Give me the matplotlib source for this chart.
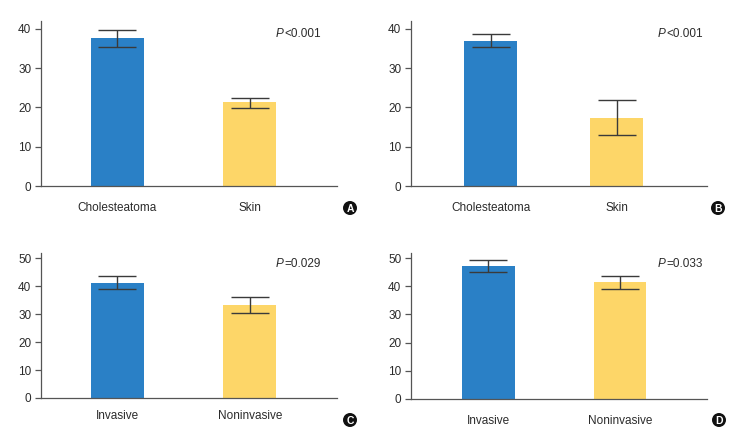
import matplotlib
matplotlib.use("Agg")
import matplotlib.pyplot as plt
from matplotlib.patches import Ellipse

plt.rcParams['font.family'] = ['Liberation Sans', 'DejaVu Sans']

# ---- data ----
cats_top = ["Cholesteatoma", "Skin"]
cats_bottom = ["Invasive", "Noninvasive"]

a_vals = [37.6, 21.3]
a_err_lo = [35.4, 19.8]
a_err_hi = [39.6, 22.3]

b_vals = [37.0, 17.4]
b_err_lo = [35.3, 13.1]
b_err_hi = [38.6, 21.8]

c_vals = [41.3, 33.2]
c_err_lo = [38.9, 30.4]
c_err_hi = [43.7, 36.0]

d_vals = [47.3, 41.4]
d_err_lo = [45.1, 39.0]
d_err_hi = [49.3, 43.8]

p_texts = ["<0.001", "<0.001", "=0.029", "=0.033"]
panel_letters = ["A", "B", "C", "D"]
yticks_top = [0, 10, 20, 30, 40]
yticks_bottom = [0, 10, 20, 30, 40, 50]

colors = ["#2A80C6", "#FDD668"]
axis_color = "#555555"
text_color = "#2b2b2b"

W, H = 740, 442
fig = plt.figure(figsize=(W / 100, H / 100), dpi=100)


def px_axes(x0, y0, x1, y1):
    # pixel box (left, top, right, bottom) -> figure fraction
    return fig.add_axes([x0 / W, 1 - y1 / H, (x1 - x0) / W, (y1 - y0) / H])


panels = [
    dict(box=(41, 21, 337, 186), ylim=42.0, xlim=(-0.577, 1.657), width=0.40,
         cats=cats_top, vals=a_vals, lo=a_err_lo, hi=a_err_hi, ticks=yticks_top,
         p=(0.82, 0.92), lab_y=208, circ=(350, 208)),
    dict(box=(411, 21, 707, 186), ylim=42.0, xlim=(-0.635, 1.72), width=0.42,
         cats=cats_top, vals=b_vals, lo=b_err_lo, hi=b_err_hi, ticks=yticks_top,
         p=(0.86, 0.92), lab_y=208, circ=(718, 208)),
    dict(box=(41, 252.7, 337, 398), ylim=52.0, xlim=(-0.577, 1.657), width=0.40,
         cats=cats_bottom, vals=c_vals, lo=c_err_lo, hi=c_err_hi, ticks=yticks_bottom,
         p=(0.82, 0.92), lab_y=416, circ=(350, 420)),
    dict(box=(411, 252.7, 707, 398.7), ylim=52.0, xlim=(-0.587, 1.66), width=0.40,
         cats=cats_bottom, vals=d_vals, lo=d_err_lo, hi=d_err_hi, ticks=yticks_bottom,
         p=(0.86, 0.92), lab_y=421, circ=(719, 420)),
]

for i, pnl in enumerate(panels):
    x0, y0, x1, y1 = pnl["box"]
    ax = px_axes(x0, y0, x1, y1)
    xs = list(range(len(pnl["cats"])))
    vals = pnl["vals"]
    yerr = [[v - l for v, l in zip(vals, pnl["lo"])],
            [h - v for v, h in zip(vals, pnl["hi"])]]
    ax.bar(xs, vals, width=pnl["width"], color=colors, zorder=2)
    ax.errorbar(xs, vals, yerr=yerr, fmt="none", ecolor="#3a3a3a",
                elinewidth=1.0, capsize=14, capthick=1.0, zorder=3)
    ax.set_xlim(*pnl["xlim"])
    ax.set_ylim(0, pnl["ylim"])
    ax.set_yticks(pnl["ticks"])
    ax.set_xticks(xs)
    ax.set_xticklabels([])
    for s in ["top", "right"]:
        ax.spines[s].set_visible(False)
    for s in ["left", "bottom"]:
        ax.spines[s].set_color(axis_color)
        ax.spines[s].set_linewidth(0.9)
    ax.tick_params(axis="y", direction="out", length=4, width=0.9,
                   color=axis_color, labelsize=8.5, labelcolor=text_color, pad=3)
    ax.tick_params(axis="x", direction="in", length=3, width=0.9,
                   color="#3a3a3a")
    # category labels
    for xv, name in zip(xs, pnl["cats"]):
        disp = ax.transData.transform((xv, 0))
        fx = disp[0] / fig.dpi / fig.get_figwidth()
        fig.text(fx, 1 - pnl["lab_y"] / H, name, ha="center", va="center",
                 fontsize=8.5, color=text_color)
    # p-value
    ax.annotate("P", xy=pnl["p"], xycoords="axes fraction", ha="right",
                va="center", fontsize=8.5, style="italic", color=text_color)
    ax.annotate(p_texts[i], xy=pnl["p"], xycoords="axes fraction", ha="left",
                va="center", fontsize=8.5, color=text_color,
                xytext=(0.5, 0), textcoords="offset points")
    # panel letter circle
    cx, cy = pnl["circ"]
    circ = Ellipse((cx / W, 1 - cy / H), width=14 / W, height=14 / H,
                   transform=fig.transFigure, facecolor="#111111", edgecolor="none")
    fig.patches.append(circ)
    fig.text(cx / W, 1 - cy / H - 0.5 / H, panel_letters[i], ha="center", va="center",
             fontsize=7.5, fontweight="bold", color="white")

fig.savefig("out.png", dpi=100)
